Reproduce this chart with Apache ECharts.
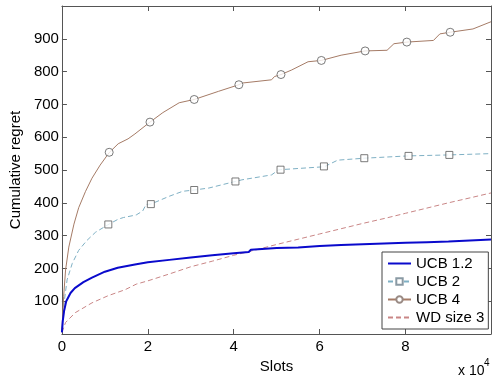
<!DOCTYPE html>
<html>
<head>
<meta charset="utf-8">
<script src="https://cdn.jsdelivr.net/npm/echarts@6/dist/echarts.min.js"></script>
<style>
  html, body { margin: 0; padding: 0; background: #fff; }
  #chart { width: 494px; height: 379px; }
</style>
</head>
<body>
<div id="chart"></div>
<script>
// values (x in slots, y = cumulative regret)
const ucb12X = [0, 200, 500, 1000, 2000, 3000, 5000, 7000, 10000, 13000, 17000, 20000, 25000, 30000, 35000, 40000, 43500, 44000, 50000, 55000, 60000, 65000, 70000, 75000, 80000, 85000, 90000, 95000, 99900];
const ucb12Y = [5, 40, 70, 100, 125, 140, 158, 172, 190, 202, 212, 219, 226, 233, 240, 246, 250, 257, 262, 264, 268, 271, 274, 276, 278, 280, 282, 285, 288];

const ucb2X = [0, 500, 1200, 2400, 3900, 5800, 7800, 10700, 13100, 14300, 17300, 18800, 19600, 20700, 25000, 28100, 30800, 34200, 38800, 40400, 41900, 48800, 50400, 50900, 61100, 64200, 70400, 80700, 90200, 99900];
const ucb2Y = [10, 95, 165, 215, 255, 285, 310, 333, 350, 355, 363, 375, 395, 396, 420, 435, 439, 445, 460, 465, 470, 485, 500, 501, 510, 530, 536, 543, 546, 550];
const ucb2MarkX = [10800, 20700, 30800, 40400, 50900, 61000, 70400, 80700, 90200];
const ucb2MarkY = [334, 396, 439, 465, 501, 511, 536, 543, 546];

const ucb4X = [0, 400, 850, 1600, 2800, 3900, 5500, 7000, 8900, 11000, 13100, 15400, 17000, 20400, 23500, 27300, 30800, 36500, 41200, 41900, 48800, 49500, 51000, 53500, 57300, 60400, 65000, 70600, 75700, 77300, 80300, 86500, 88000, 90400, 95700, 99900];
const ucb4Y = [10, 115, 195, 265, 335, 385, 435, 475, 515, 553, 580, 595, 610, 645, 675, 705, 715, 740, 760, 765, 775, 785, 791, 805, 830, 834, 850, 863, 865, 885, 890, 895, 915, 920, 930, 952];
const ucb4MarkX = [11000, 20500, 30800, 41200, 51000, 60400, 70600, 80300, 90400];
const ucb4MarkY = [554, 646, 715, 760, 791, 834, 863, 890, 920];

const wdX = [0, 850, 3100, 7000, 10800, 14700, 17300, 20000, 25000, 30000, 35000, 40000, 45000, 50000, 55000, 60000, 65000, 70000, 75000, 80000, 85000, 90000, 95000, 99900];
const wdY = [5, 35, 65, 95, 117, 135, 152, 162, 183, 205, 222, 240, 256, 273, 289, 305, 321, 337, 352, 368, 384, 400, 415, 430];

const seriesNames = ["UCB 1.2", "UCB 2", "UCB 4", "WD size 3"];

const pairs = (xs, ys) => xs.map((x, i) => [x, ys[i]]);

const FONT = "'Liberation Sans', Arial, sans-serif";
const frameColor = "#555";
const blue = "#0a0acc";
const teal = "#7fb0c4";
const brown = "#a57b66";
const pink = "#c98686";
const markerColor = "#5a5a5a";

const chart = echarts.init(document.getElementById("chart"), null, { renderer: "canvas" });

const baseX = {
  type: "value",
  min: 0,
  max: 99900,
  interval: 20000,
  splitLine: { show: false },
  axisLine: { show: true, onZero: false, lineStyle: { color: frameColor, width: 1 } },
  axisTick: { show: true, inside: true, length: 5, lineStyle: { color: frameColor } },
};
const baseY = {
  type: "value",
  min: 0,
  max: 1000,
  interval: 100,
  splitLine: { show: false },
  axisLine: { show: true, onZero: false, lineStyle: { color: frameColor, width: 1 } },
  axisTick: { show: true, inside: true, length: 5, lineStyle: { color: frameColor } },
};

const option = {
  animation: false,
  backgroundColor: "#fff",
  grid: { left: 58, right: 2, top: 6, bottom: 42, containLabel: false },
  xAxis: [
    {
      ...baseX,
      position: "bottom",
      name: "Slots",
      nameLocation: "middle",
      nameGap: 25,
      nameTextStyle: { fontFamily: FONT, fontSize: 15, color: "#000" },
      axisLabel: {
        margin: 5,
        fontFamily: FONT,
        fontSize: 15,
        color: "#000",
        formatter: (v) => (v % 20000 === 0 ? String(v / 10000) : ""),
      },
    },
    { ...baseX, position: "top", axisLabel: { show: false } },
  ],
  yAxis: [
    {
      ...baseY,
      position: "left",
      name: "Cumulative regret",
      nameLocation: "middle",
      nameGap: 35,
      nameTextStyle: { fontFamily: FONT, fontSize: 15, color: "#000" },
      axisLabel: {
        margin: 3,
        fontFamily: FONT,
        fontSize: 15,
        color: "#000",
        formatter: (v) => (v === 0 || v === 1000 ? "" : String(v)),
      },
    },
    { ...baseY, position: "right", axisLabel: { show: false } },
  ],
  legend: {
    data: [
      { name: seriesNames[0], itemStyle: { opacity: 0 } },
      { name: seriesNames[1] },
      { name: seriesNames[2] },
      { name: seriesNames[3], itemStyle: { opacity: 0 } },
    ],
    orient: "vertical",
    left: 382,
    top: 252,
    padding: [4, 4, 4, 5],
    itemGap: 3,
    itemWidth: 23,
    itemHeight: 8,
    backgroundColor: "#fff",
    borderColor: "#444",
    borderWidth: 1,
    borderRadius: 0,
    textStyle: { fontFamily: FONT, fontSize: 15, color: "#000" },
  },
  graphic: [
    {
      type: "text",
      left: 458,
      top: 364,
      style: { text: "x 10", font: "14px " + FONT, fill: "#000" },
    },
    {
      type: "text",
      left: 484,
      top: 358,
      style: { text: "4", font: "10px " + FONT, fill: "#000" },
    },
  ],
  series: [
    {
      name: "UCB 1.2",
      type: "line",
      data: pairs(ucb12X, ucb12Y),
      symbol: "none",
      lineStyle: { color: blue, width: 2 },
      itemStyle: { color: blue },
      z: 4,
    },
    {
      name: "UCB 2",
      type: "line",
      data: pairs(ucb2X, ucb2Y),
      symbol: "emptyRect",
      symbolSize: 6,
      showSymbol: false,
      lineStyle: { color: teal, width: 1, type: [5, 3] },
      itemStyle: { color: "#8a9aa4" },
      z: 3,
    },
    {
      name: "UCB 4",
      type: "line",
      data: pairs(ucb4X, ucb4Y),
      symbol: "emptyCircle",
      symbolSize: 7,
      showSymbol: false,
      lineStyle: { color: brown, width: 1 },
      itemStyle: { color: "#998a84" },
      z: 3,
    },
    {
      name: "WD size 3",
      type: "line",
      data: pairs(wdX, wdY),
      symbol: "none",
      lineStyle: { color: pink, width: 1, type: [5, 3] },
      itemStyle: { color: pink },
      z: 2,
    },
    {
      name: "ucb2-markers",
      type: "scatter",
      data: pairs(ucb2MarkX, ucb2MarkY),
      symbol: "rect",
      symbolSize: 7,
      itemStyle: { color: "#fff", borderColor: markerColor, borderWidth: 1 },
      z: 5,
    },
    {
      name: "ucb4-markers",
      type: "scatter",
      data: pairs(ucb4MarkX, ucb4MarkY),
      symbol: "circle",
      symbolSize: 8,
      itemStyle: { color: "#fff", borderColor: markerColor, borderWidth: 1 },
      z: 5,
    },
  ],
};

chart.setOption(option);
</script>
</body>
</html>
